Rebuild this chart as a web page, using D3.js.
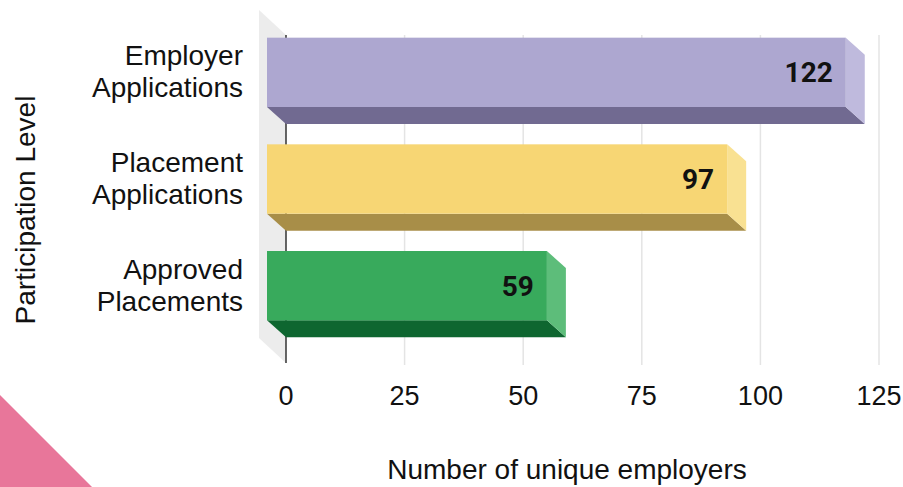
<!DOCTYPE html>
<html>
<head>
<meta charset="utf-8">
<script src="https://cdn.jsdelivr.net/npm/d3@7"></script>
<style>
body { margin: 0; background: #fff; }
svg { display: block; }
</style>
</head>
<body>
<svg id="chart" width="903" height="487"></svg>
<script>
var categories = [['Employer', 'Applications'], ['Placement', 'Applications'], ['Approved', 'Placements']];
var values = [122, 97, 59];
var tickValues = [0, 25, 50, 75, 100, 125];
var frontColors = ['#ada7d0', '#f7d674', '#38aa5c'];
var bottomColors = ['#716a91', '#a88e48', '#0e6630'];
var sideColors = ['#bfbadd', '#f9e192', '#5dbd7a'];

var svg = d3.select('#chart');

// depth of the 3d effect (front face is shifted left/up)
var dx = 19, dy = 17;

var x = d3.scaleLinear().domain([0, 125]).range([286, 879]);
var y = d3.scaleBand()
	.domain(d3.range(categories.length))
	.range([36, 356])
	.paddingInner(0.35)
	.paddingOuter(0.175);

// pink corner
svg.append('path')
	.attr('d', 'M0,395L92,487L0,487Z')
	.attr('fill', '#e8769a');

// left wall
svg.append('path')
	.attr('d', 'M259,10L286,35L286,363L259,338Z')
	.attr('fill', '#ececec');

// gridlines
svg.append('g')
	.selectAll('line')
	.data(tickValues.slice(1))
	.enter()
	.append('line')
	.attr('x1', d => x(d))
	.attr('x2', d => x(d))
	.attr('y1', 35)
	.attr('y2', 365)
	.attr('stroke', '#e4e4e4')
	.attr('stroke-width', 1.5);

// axis line
svg.append('line')
	.attr('x1', x(0)).attr('x2', x(0))
	.attr('y1', 35).attr('y2', 363)
	.attr('stroke', '#333')
	.attr('stroke-width', 1.5);

var bars = svg.append('g')
	.selectAll('g')
	.data(values)
	.enter()
	.append('g');

// bottom face
bars.append('path')
	.attr('fill', (d, i) => bottomColors[i])
	.attr('d', (d, i) => {
		var x0 = x(0), x1 = x(d), yb = y(i) + y.bandwidth();
		return 'M' + (x0 - dx) + ',' + (yb - dy) + 'L' + (x1 - dx) + ',' + (yb - dy) +
			'L' + x1 + ',' + yb + 'L' + x0 + ',' + yb + 'Z';
	});

// side face
bars.append('path')
	.attr('fill', (d, i) => sideColors[i])
	.attr('d', (d, i) => {
		var x1 = x(d), yt = y(i), yb = y(i) + y.bandwidth();
		return 'M' + (x1 - dx) + ',' + (yt - dy) + 'L' + x1 + ',' + yt +
			'L' + x1 + ',' + yb + 'L' + (x1 - dx) + ',' + (yb - dy) + 'Z';
	});

// front face
bars.append('rect')
	.attr('x', x(0) - dx)
	.attr('y', (d, i) => y(i) - dy)
	.attr('width', d => x(d) - x(0))
	.attr('height', y.bandwidth())
	.attr('fill', (d, i) => frontColors[i]);

// value labels
bars.append('text')
	.attr('x', d => x(d) - dx - 13)
	.attr('y', (d, i) => y(i) - dy + y.bandwidth() / 2)
	.attr('dy', '0.36em')
	.attr('text-anchor', 'end')
	.style('font', 'bold 28px Roboto, sans-serif')
	.attr('fill', '#111')
	.text(d => d);

// category labels
var labels = svg.append('g')
	.selectAll('text')
	.data(categories)
	.enter()
	.append('text')
	.attr('text-anchor', 'end')
	.style('font', '28px "Liberation Sans", Arial, sans-serif')
	.attr('fill', '#111')
	.attr('transform', (d, i) => 'translate(243,' + (y(i) - dy + y.bandwidth() / 2) + ')');

labels.append('tspan')
	.attr('x', 0)
	.attr('y', -7)
	.text(d => d[0]);
labels.append('tspan')
	.attr('x', 0)
	.attr('y', 25)
	.text(d => d[1]);

// x tick labels
svg.append('g')
	.selectAll('text')
	.data(tickValues)
	.enter()
	.append('text')
	.attr('x', d => x(d))
	.attr('y', 395)
	.attr('dy', '0.36em')
	.attr('text-anchor', 'middle')
	.style('font', '27px "Liberation Sans", Arial, sans-serif')
	.attr('fill', '#111')
	.text(d => d);

// axis titles
svg.append('text')
	.attr('x', 567)
	.attr('y', 469)
	.attr('dy', '0.36em')
	.attr('text-anchor', 'middle')
	.style('font', '28px "Liberation Sans", Arial, sans-serif')
	.attr('fill', '#111')
	.text('Number of unique employers');

svg.append('text')
	.attr('transform', 'translate(25,210) rotate(-90)')
	.attr('dy', '0.36em')
	.attr('text-anchor', 'middle')
	.style('font', '28px "Liberation Sans", Arial, sans-serif')
	.attr('fill', '#111')
	.text('Participation Level');
</script>
</body>
</html>
